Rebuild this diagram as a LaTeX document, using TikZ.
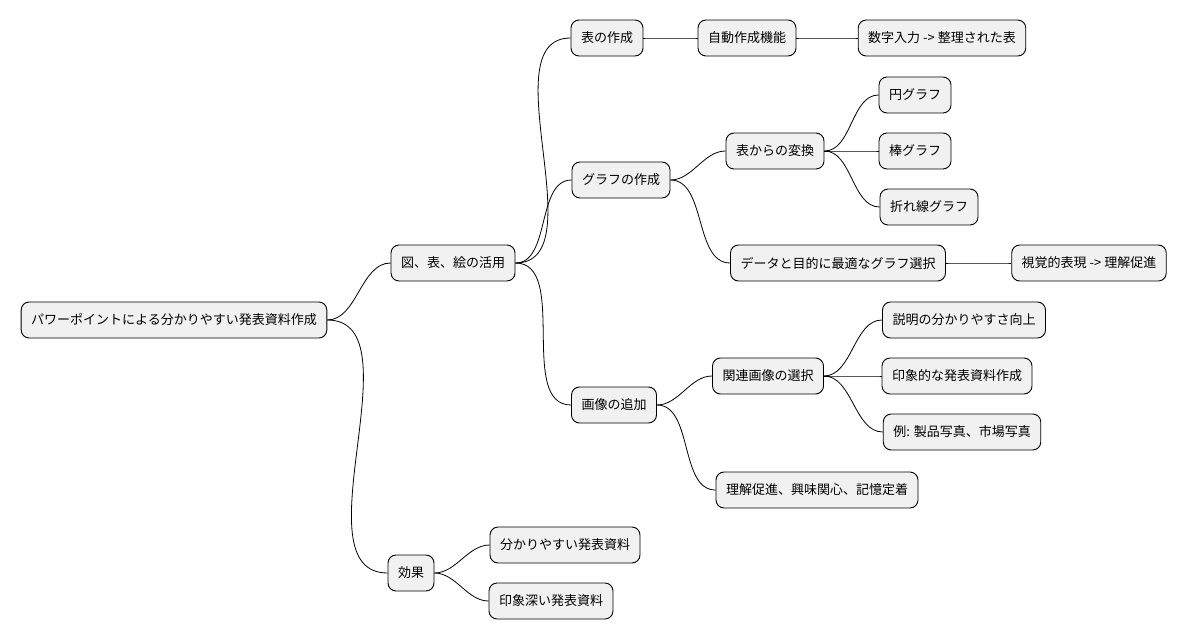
\documentclass[tikz,border=0pt]{standalone}
\usepackage{fontspec}
\setmainfont{Noto Sans CJK JP}
\definecolor{boxfill}{HTML}{F1F1F1}
\tikzset{
  topic/.style={draw=black, line width=0.9pt, fill=boxfill, rounded corners=8pt,
    minimum height=36pt, inner xsep=10pt, font=\fontsize{13}{15}\selectfont},
  branch/.style={line width=0.8pt, out=0, in=180, looseness=0.9},
}
\begin{document}
\begin{tikzpicture}[x=1pt, y=-1pt]
    \useasboundingbox (0,0) rectangle (1186,640);

    % root and first level
    \node[topic] (root) at (174,320) {パワーポイントによる分かりやすい発表資料作成};
    \node[topic] (use) at (453,263) {図、表、絵の活用};
    \node[topic] (eff) at (411,573) {効果};

    % tables
    \node[topic] (tab) at (607,38) {表の作成};
    \node[topic] (auto) at (747,38) {自動作成機能};
    \node[topic] (num) at (942,38) {数字入力 -> 整理された表};

    % graphs
    \node[topic] (gra) at (621,180) {グラフの作成};
    \node[topic] (conv) at (775,151) {表からの変換};
    \node[topic] (pie) at (915,95) {円グラフ};
    \node[topic] (bar) at (915,151) {棒グラフ};
    \node[topic] (line) at (929,207) {折れ線グラフ};
    \node[topic] (sel) at (838,263) {データと目的に最適なグラフ選択};
    \node[topic] (vis) at (1089,263) {視覚的表現 -> 理解促進};

    % images
    \node[topic] (img) at (614,405) {画像の追加};
    \node[topic] (pick) at (768,376) {関連画像の選択};
    \node[topic] (clar) at (964,320) {説明の分かりやすさ向上};
    \node[topic] (impr) at (957,376) {印象的な発表資料作成};
    \node[topic] (expl) at (962,432) {例: 製品写真、市場写真};
    \node[topic] (und) at (817,490) {理解促進、興味関心、記憶定着};

    % effects
    \node[topic] (easy) at (565,545) {分かりやすい発表資料};
    \node[topic] (deep) at (551,601) {印象深い発表資料};

    % connectors
    \foreach \p/\c in {root/use, root/eff, use/tab, use/gra, use/img,
                       tab/auto, auto/num, gra/conv, gra/sel, conv/pie, conv/bar, conv/line,
                       sel/vis, img/pick, img/und, pick/clar, pick/impr, pick/expl,
                       eff/easy, eff/deep}
        \draw[branch] (\p.east) to (\c.west);
\end{tikzpicture}
\end{document}
